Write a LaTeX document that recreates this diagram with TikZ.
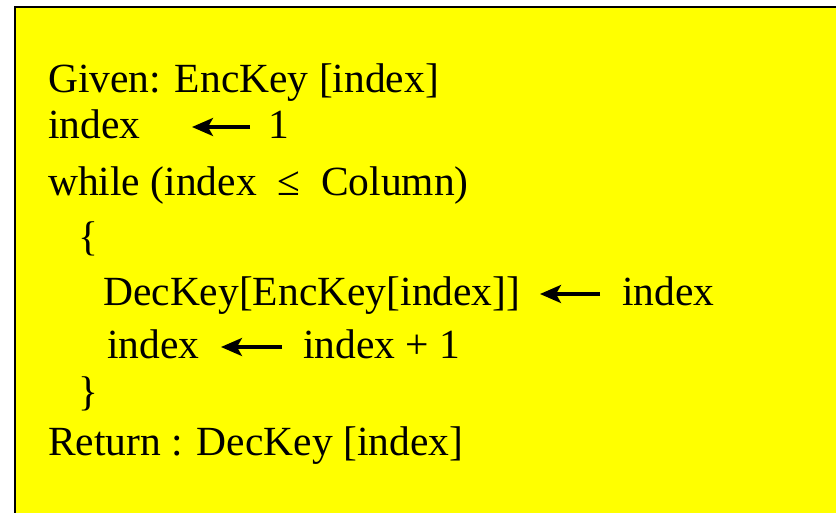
\documentclass[tikz,border=0pt]{standalone}
\usepackage{fontspec}
\setmainfont{Liberation Serif}
\usetikzlibrary{arrows.meta}
\definecolor{boxyellow}{RGB}{255,255,0}
\tikzset{
  code/.style={anchor=base west, inner sep=0pt, font=\fontsize{41.5}{50}\selectfont},
  assign/.style={line width=3.3pt, -{Stealth[length=21pt,width=18pt,inset=5pt]}}
}
\begin{document}
\begin{tikzpicture}[x=1pt,y=-1pt]
\useasboundingbox (0,0) rectangle (836,512);
\clip (0,0) rectangle (836,512);
\draw[line width=2.5pt, fill=boxyellow] (15,7) rectangle (850,530);
\node[code] (l1) at (48,92) {Given: EncKey [index]};
\node[code] (l2a) at (48,138) {index};
\coordinate (a1s) at (250,127);
\coordinate (a1e) at (192,127);
\node[code] (l2b) at (268,138) {1};
\node[code] (l3) at (48,195) {while (index\ \ ≤\ \ Column)};
\node[code] (l4) at (78,250) {\{};
\node[code] (l5a) at (103,305) {DecKey[EncKey[index]]};
\coordinate (a2s) at (600,294);
\coordinate (a2e) at (540,294);
\node[code] (l5b) at (622,305) {index};
\node[code] (l6a) at (107,358) {index};
\coordinate (a3s) at (282,347);
\coordinate (a3e) at (221,347);
\node[code] (l6b) at (303,358) {index + 1};
\node[code] (l7) at (78,405) {\}};
\node[code] (l8) at (48,455) {Return : DecKey [index]};
\draw[assign] (a1s) -- (a1e);
\draw[assign] (a2s) -- (a2e);
\draw[assign] (a3s) -- (a3e);
\end{tikzpicture}
\end{document}
